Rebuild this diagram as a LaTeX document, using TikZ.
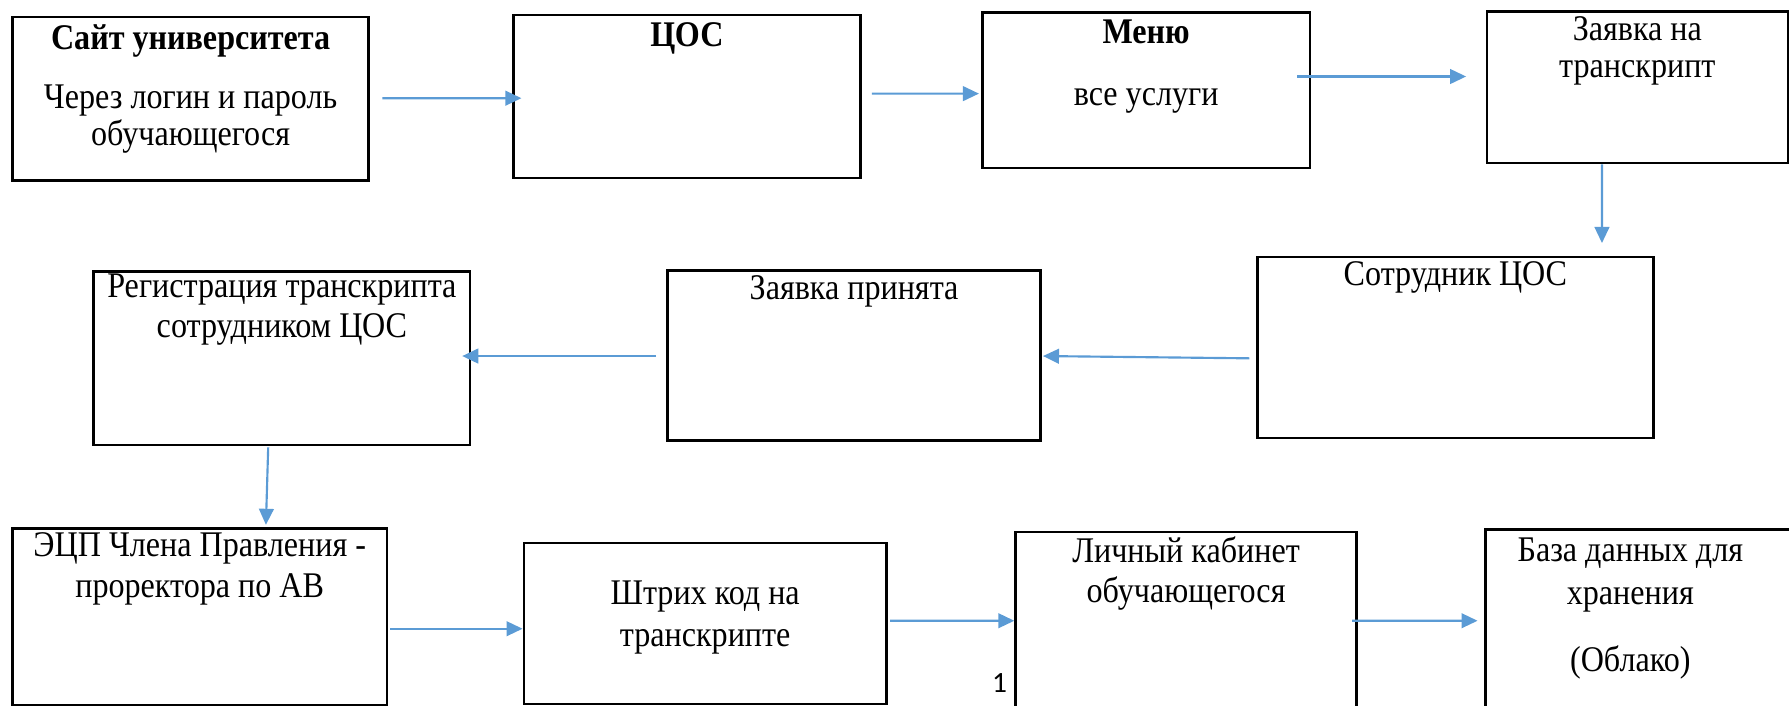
\documentclass[tikz,border=0pt]{standalone}
\usepackage{fontspec}
\setmainfont{Liberation Serif}[FakeStretch=0.89]
\newfontfamily\pagefont{Carlito}
\usetikzlibrary{arrows.meta,positioning}

\definecolor{flowblue}{HTML}{5B9BD5}

\begin{document}
\begin{tikzpicture}[x=0.015cm,y=-0.015cm,
    box/.style={draw, line width=0.9pt, inner sep=0pt, anchor=north west},
    txt/.style={inner sep=0pt, align=center, font=\fontsize{13.5}{15}\selectfont},
    flow/.style={draw=flowblue, line width=0.8pt, -{Triangle[length=6pt,width=5.5pt]}}]

    % Page size
    \useasboundingbox (0,0) rectangle (1568,618);
    \clip (0,0) rectangle (1568,618);

    % First row of boxes
    \node[box, minimum width=4.68cm, minimum height=2.145cm] (site) at (10,14) {};
    \node[box, minimum width=4.56cm, minimum height=2.145cm] (cos) at (449,12) {};
    \node[box, minimum width=4.305cm, minimum height=2.04cm] (menu) at (860,10) {};
    \node[box, minimum width=3.96cm, minimum height=1.995cm] (req) at (1302,9) {};

    % Second row of boxes
    \node[box, minimum width=5.205cm, minimum height=2.385cm] (staff) at (1101,224) {};
    \node[box, minimum width=4.905cm, minimum height=2.235cm] (accepted) at (584,236) {};
    \node[box, minimum width=4.95cm, minimum height=2.28cm] (reg) at (81,237) {};

    % Third row of boxes
    \node[box, minimum width=4.92cm, minimum height=2.325cm] (sign) at (10,462) {};
    \node[box, minimum width=4.77cm, minimum height=2.115cm] (barcode) at (458,475) {};
    \node[box, minimum width=4.485cm, minimum height=2.475cm] (cabinet) at (889,465) {};
    \node[box, minimum width=4.485cm, minimum height=2.505cm] (cloud) at (1301,463) {};

    % Texts in the boxes
    \node[txt, font=\fontsize{13.5}{14}\selectfont, below=3pt of site.north] (siteT)
        {\textbf{Сайт университета}\\[8pt]Через логин и пароль\\обучающегося};
    \node[txt, below=3pt of cos.north] (cosT) {\textbf{ЦОС}};
    \node[txt, below=3pt of menu.north] (menuT) {\textbf{Меню}\\[8pt]все услуги};
    \node[txt, font=\fontsize{13.5}{14}\selectfont, below=2pt of req.north] (reqT) {Заявка на\\транскрипт};
    \node[txt, below=2pt of staff.north] (staffT) {Сотрудник ЦОС};
    \node[txt, below=2pt of accepted.north] (acceptedT) {Заявка принята};
    \node[txt, below=1pt of reg.north] (regT) {Регистрация транскрипта\\сотрудником ЦОС};
    \node[txt, below=2pt of sign.north] (signT) {ЭЦП Члена Правления -\\проректора по АВ};
    \node[txt, font=\fontsize{13.5}{15.5}\selectfont, below=14.5pt of barcode.north] (barcodeT) {Штрих код на\\транскрипте};
    \node[txt, below=2pt of cabinet.north] (cabinetT) {Личный кабинет\\обучающегося};
    \node[txt, font=\fontsize{13.5}{16}\selectfont, below=3.5pt of cloud.north, xshift=-0.34cm] (cloudT)
        {База данных для\\хранения\\[9pt](Облако)};

    % Page number
    \node[inner sep=0pt, font=\pagefont\fontsize{11}{13}\selectfont] (pagenum) at (876,599) {1};

    % Arrows, first row
    \draw[flow] ([shift={(11,-0.5)}]site.east) -- ([shift={(8,1.5)}]cos.west);
    \draw[flow] ([shift={(9,-2.5)}]cos.east) -- ([shift={(-2,3)}]menu.west);
    \draw[flow] ([shift={(-12,-12)}]menu.east) -- ([shift={(-17,-9.5)}]req.west);
    \draw[flow] ([shift={(-31,0)}]req.south) -- ([shift={(128.5,-11)}]staff.north);

    % Arrows, second row
    \draw[flow] ([shift={(-6,9.5)}]staff.west) -- ([shift={(1,0.5)}]accepted.east);
    \draw[flow] ([shift={(-9,0.5)}]accepted.west) -- ([shift={(-8,-2)}]reg.east);
    \draw[flow] ([shift={(-12,1)}]reg.south) -- ([shift={(58,-2)}]sign.north);

    % Arrows, third row
    \draw[flow] ([shift={(2,10.5)}]sign.east) -- ([shift={(0,4.5)}]barcode.west);
    \draw[flow] ([shift={(2,-2.5)}]barcode.east) -- ([shift={(0,-4.5)}]cabinet.west);
    \draw[flow] ([shift={(-5,-4.5)}]cabinet.east) -- ([shift={(-6,-3.5)}]cloud.west);
\end{tikzpicture}
\end{document}
